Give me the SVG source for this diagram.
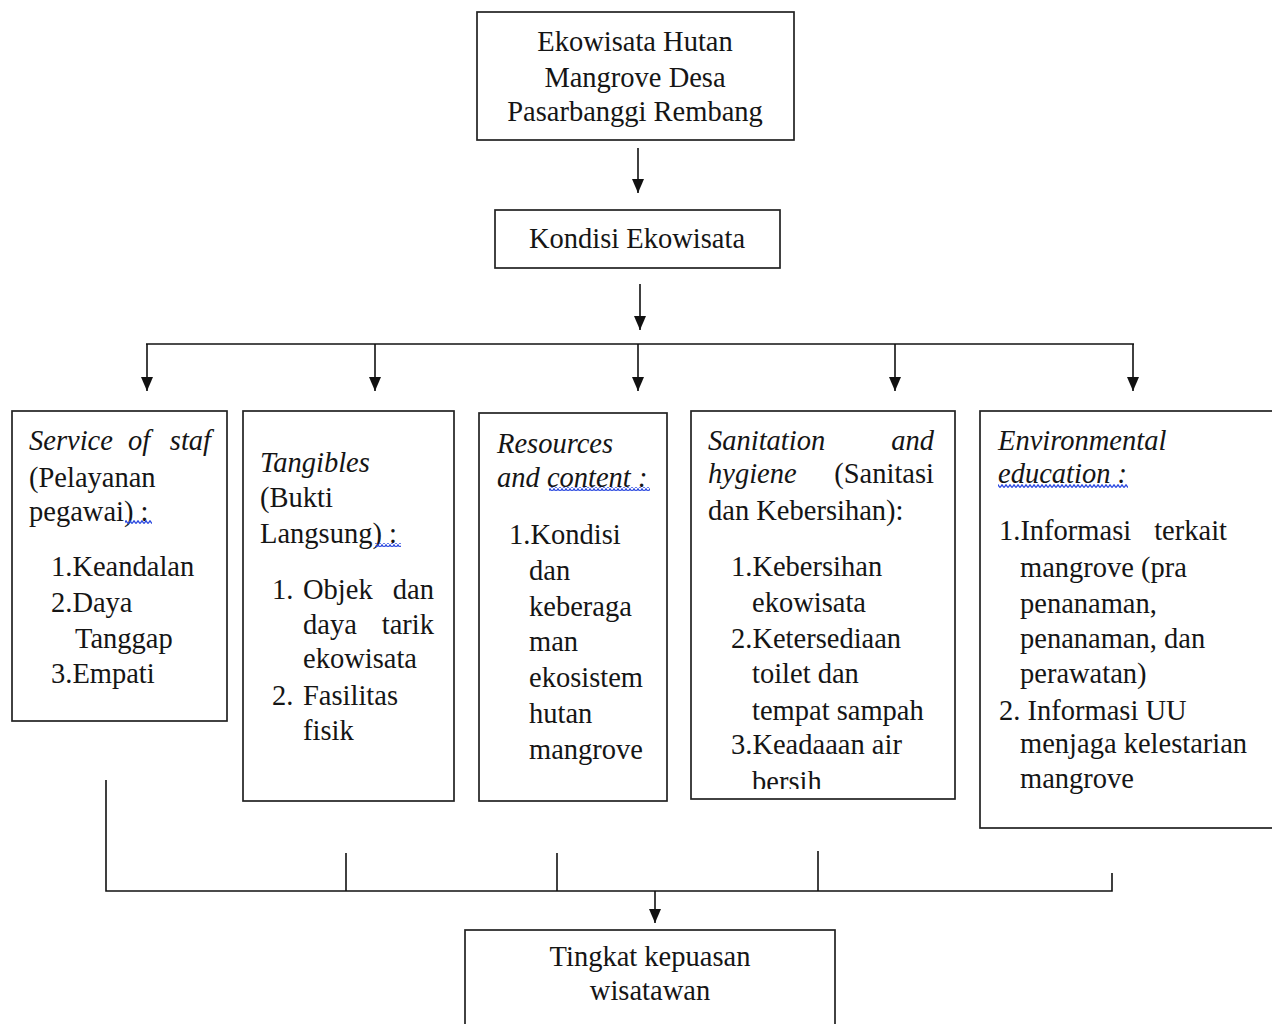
<svg xmlns="http://www.w3.org/2000/svg" width="1272" height="1024" viewBox="0 0 1272 1024">
<style>
.t{font-family:"Liberation Serif","Times New Roman",serif;font-size:28.5px;fill:#151515}
.i{font-style:italic}
.e{text-anchor:end}
.m{text-anchor:middle}
.box{fill:#fff;stroke:#222;stroke-width:1.7}
.ln{fill:none;stroke:#111;stroke-width:1.6}
.ar{fill:none;stroke:#111;stroke-width:1.6;marker-end:url(#ah)}
.wv{fill:url(#wave)}
</style>
<defs>
<marker id="ah" viewBox="0 0 14 12" refX="14" refY="6" markerWidth="14" markerHeight="12" markerUnits="userSpaceOnUse" orient="auto">
<path d="M0,0 L14,6 L0,12 Z" fill="#111"/>
</marker>
<pattern id="wave" patternUnits="userSpaceOnUse" x="0" y="0" width="4" height="4">
<path d="M0,3.5 L2,0.8 L4,3.5" fill="none" stroke="#2a48e0" stroke-width="1.3"/>
</pattern>
<clipPath id="clip4"><rect x="691" y="411" width="264" height="378"/></clipPath>
</defs>
<rect width="1272" height="1024" fill="#fff"/>

<g id="connectors">
<line class="ar" x1="638" y1="148" x2="638" y2="193"/>
<line class="ar" x1="640" y1="284" x2="640" y2="330"/>
<line class="ln" x1="146" y1="344" x2="1134" y2="344"/>
<line class="ar" x1="147" y1="344" x2="147" y2="391"/>
<line class="ar" x1="375" y1="344" x2="375" y2="391"/>
<line class="ar" x1="638" y1="344" x2="638" y2="391"/>
<line class="ar" x1="895" y1="344" x2="895" y2="391"/>
<line class="ar" x1="1133" y1="344" x2="1133" y2="391"/>
<polyline class="ln" points="106,780 106,891 1112,891 1112,873"/>
<line class="ln" x1="346" y1="853" x2="346" y2="891"/>
<line class="ln" x1="557" y1="853" x2="557" y2="891"/>
<line class="ln" x1="818" y1="851" x2="818" y2="891"/>
<line class="ar" x1="655" y1="891" x2="655" y2="923"/>
</g>

<g id="node-top">
<rect class="box" x="477" y="12" width="317" height="128"/>
<text class="t m" x="635" y="51">Ekowisata Hutan</text>
<text class="t m" x="635" y="87">Mangrove Desa</text>
<text class="t m" x="635" y="121">Pasarbanggi Rembang</text>
</g>

<g id="node-kondisi">
<rect class="box" x="495" y="210" width="285" height="58"/>
<text class="t m" x="637" y="248">Kondisi Ekowisata</text>
</g>

<g id="node-service">
<rect class="box" x="12" y="411" width="215" height="310"/>
<text class="t i" x="29" y="450">Service</text>
<text class="t i" x="128" y="450">of</text>
<text class="t i e" x="211" y="450">staf</text>
<text class="t" x="29" y="487">(Pelayanan</text>
<text class="t" x="29" y="521">pegawai) :</text>
<rect class="wv" x="125" y="520" width="27" height="4"/>
<text class="t" x="51" y="576">1.Keandalan</text>
<text class="t" x="51" y="612">2.Daya</text>
<text class="t" x="75" y="648">Tanggap</text>
<text class="t" x="51" y="683">3.Empati</text>
</g>

<g id="node-tangibles">
<rect class="box" x="243" y="411" width="211" height="390"/>
<text class="t i" x="260" y="472">Tangibles</text>
<text class="t" x="260" y="507">(Bukti</text>
<text class="t" x="260" y="543">Langsung) :</text>
<rect class="wv" x="375" y="543" width="26" height="4"/>
<text class="t" x="272" y="599">1.</text>
<text class="t" x="303" y="599">Objek</text>
<text class="t e" x="434" y="599">dan</text>
<text class="t" x="303" y="634">daya</text>
<text class="t e" x="434" y="634">tarik</text>
<text class="t" x="303" y="668">ekowisata</text>
<text class="t" x="272" y="705">2.</text>
<text class="t" x="303" y="705">Fasilitas</text>
<text class="t" x="303" y="740">fisik</text>
</g>

<g id="node-resources">
<rect class="box" x="479" y="413" width="188" height="388"/>
<text class="t i" x="497" y="453">Resources</text>
<text class="t i" x="497" y="487">and content :</text>
<rect class="wv" x="549" y="487" width="101" height="4"/>
<text class="t" x="509" y="544">1.Kondisi</text>
<text class="t" x="529" y="580">dan</text>
<text class="t" x="529" y="616">keberaga</text>
<text class="t" x="529" y="651">man</text>
<text class="t" x="529" y="687">ekosistem</text>
<text class="t" x="529" y="723">hutan</text>
<text class="t" x="529" y="759">mangrove</text>
</g>

<g id="node-sanitation">
<rect class="box" x="691" y="411" width="264" height="388"/>
<text class="t i" x="708" y="450">Sanitation</text>
<text class="t i e" x="934" y="450">and</text>
<text class="t i" x="708" y="483">hygiene</text>
<text class="t e" x="934" y="483">(Sanitasi</text>
<text class="t" x="708" y="520">dan Kebersihan):</text>
<text class="t" x="731" y="576">1.Kebersihan</text>
<text class="t" x="752" y="612">ekowisata</text>
<text class="t" x="731" y="648">2.Ketersediaan</text>
<text class="t" x="752" y="683">toilet dan</text>
<text class="t" x="752" y="720">tempat sampah</text>
<text class="t" x="731" y="754">3.Keadaaan air</text>
<text class="t" x="752" y="791" clip-path="url(#clip4)">bersih</text>
</g>

<g id="node-environmental">
<rect class="box" x="980" y="411" width="310" height="417"/>
<text class="t i" x="998" y="450">Environmental</text>
<text class="t i" x="998" y="483">education :</text>
<rect class="wv" x="998" y="484" width="130" height="4"/>
<text class="t" x="999" y="540">1.Informasi</text>
<text class="t e" x="1227" y="540">terkait</text>
<text class="t" x="1020" y="577">mangrove (pra</text>
<text class="t" x="1020" y="613">penanaman,</text>
<text class="t" x="1020" y="648">penanaman, dan</text>
<text class="t" x="1020" y="683">perawatan)</text>
<text class="t" x="999" y="720">2. Informasi UU</text>
<text class="t" x="1020" y="753">menjaga kelestarian</text>
<text class="t" x="1020" y="788">mangrove</text>
</g>

<g id="node-kepuasan">
<rect class="box" x="465" y="930" width="370" height="110"/>
<text class="t m" x="650" y="966">Tingkat kepuasan</text>
<text class="t m" x="650" y="1000">wisatawan</text>
</g>
</svg>
